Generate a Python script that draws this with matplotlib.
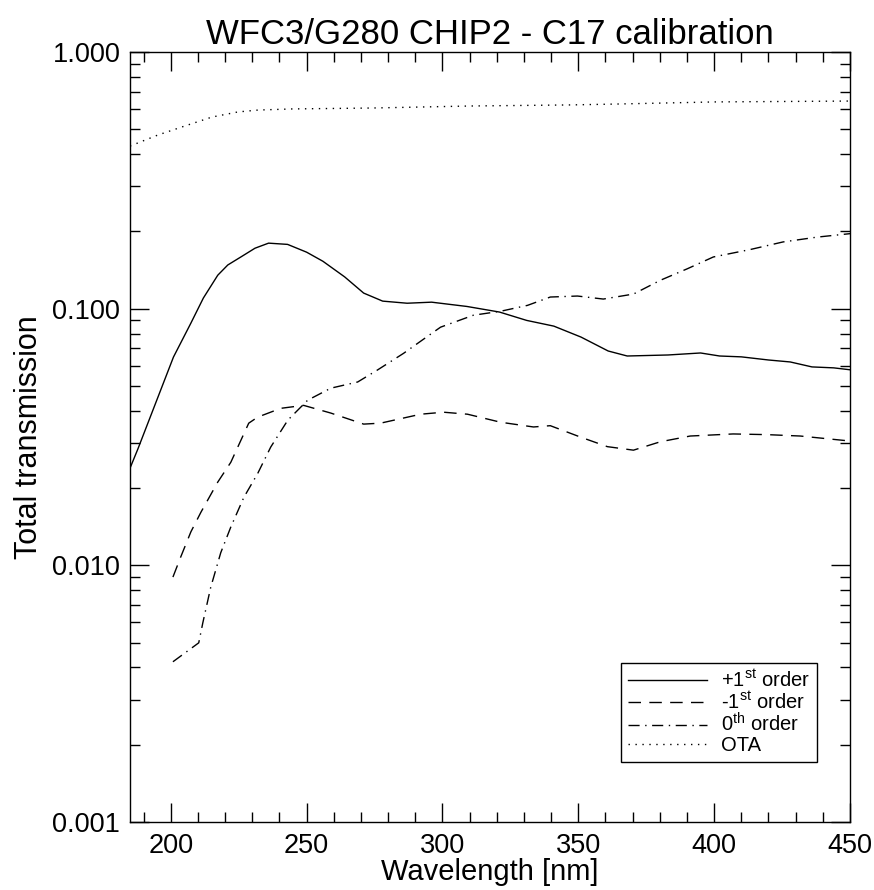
import numpy as np
import matplotlib
matplotlib.use("Agg")
import matplotlib.pyplot as plt
from matplotlib.ticker import MultipleLocator, LogLocator, FixedLocator, FormatStrFormatter

plt.rcParams['font.family'] = ['Liberation Sans', 'DejaVu Sans']
plt.rcParams['mathtext.fontset'] = 'custom'
plt.rcParams['mathtext.rm'] = 'Liberation Sans'
plt.rcParams['mathtext.it'] = 'Liberation Sans:italic'

# +1st order
wl_p1 = [185, 187.9, 201, 207.4, 212, 217.3, 221, 225.8, 231, 236, 243, 250, 256, 264,
         271, 278, 287, 296, 309, 321, 331, 341, 351, 361, 368, 383, 395, 402, 410,
         420, 428, 436, 444, 450]
tr_p1 = [0.0239, 0.0284, 0.0648, 0.0878, 0.110, 0.135, 0.148, 0.159, 0.172, 0.180,
         0.178, 0.166, 0.153, 0.133, 0.115, 0.107, 0.105, 0.106, 0.102, 0.097, 0.090,
         0.0855, 0.0775, 0.0684, 0.0654, 0.066, 0.0672, 0.0654, 0.0649, 0.0631,
         0.062, 0.0593, 0.0588, 0.0578]

# -1st order
wl_m1 = [200.8, 203.7, 207.4, 211.1, 217.3, 222.1, 228.7, 232, 240.5, 248.9, 258.9,
         271, 277.2, 292, 300.4, 309.2, 321.4, 333.5, 339.7, 350.8, 360.7, 370.3,
         380.2, 391.2, 407, 419.5, 431.7, 450]
tr_m1 = [0.0090, 0.0108, 0.0135, 0.0161, 0.0211, 0.0252, 0.0358, 0.0378, 0.0409,
         0.0420, 0.0392, 0.0355, 0.0358, 0.0388, 0.0395, 0.0388, 0.0361, 0.0346,
         0.0350, 0.0316, 0.0290, 0.0281, 0.0303, 0.0319, 0.0325, 0.0323, 0.0319, 0.0305]

# 0th order
wl_0 = [200.8, 210.3, 211.8, 214.7, 218.4, 222.1, 226.9, 232, 236.8, 243.1, 250.4,
        258.9, 268.8, 276.1, 285.7, 295.6, 299.3, 311.4, 321.4, 331.3, 339.7, 349.7,
        359.2, 370.3, 380.2, 390.1, 399.7, 413.3, 425.4, 437.9, 450]
tr_0 = [0.00421, 0.00499, 0.00597, 0.0082, 0.0112, 0.0141, 0.0184, 0.0228, 0.0289,
        0.0368, 0.0440, 0.0490, 0.0518, 0.0577, 0.067, 0.0795, 0.0847, 0.0943, 0.0977,
        0.103, 0.111, 0.112, 0.109, 0.114, 0.129, 0.143, 0.159, 0.170, 0.182, 0.190, 0.196]

# OTA
wl_ota = [185, 195.3, 205.2, 215.2, 224.7, 232.1, 244.6, 274.1, 310.1, 347, 364.2, 400.3, 450]
tr_ota = [0.430, 0.475, 0.515, 0.558, 0.584, 0.594, 0.600, 0.605, 0.616, 0.622, 0.627, 0.639, 0.644]

fig = plt.figure(figsize=(8.74, 8.90), dpi=100)
ax = fig.add_axes([130/874, 68/890, 720/874, 770/890])

lw = 1.0
ax.plot(wl_p1, tr_p1, color='black', lw=lw, ls='-', label=r'+1$^{\rm st}$ order')
ax.plot(wl_m1, tr_m1, color='black', lw=lw, ls=(0, (9, 6)), label=r'-1$^{\rm st}$ order')
ax.plot(wl_0, tr_0, color='black', lw=lw, ls=(0, (8, 4, 1, 4)), label=r'0$^{\rm th}$ order')
ax.plot(wl_ota, tr_ota, color='black', lw=lw, ls=(0, (1, 4)), label='OTA')

ax.set_yscale('log')
ax.set_xlim(185, 450)
ax.set_ylim(0.001, 1.0)

ax.xaxis.set_major_locator(MultipleLocator(50))
ax.xaxis.set_minor_locator(MultipleLocator(10))
ax.yaxis.set_major_locator(FixedLocator([0.001, 0.01, 0.1, 1.0]))
ax.yaxis.set_minor_locator(LogLocator(base=10, subs=np.arange(2, 10)))
ax.yaxis.set_major_formatter(FormatStrFormatter('%.3f'))
ax.yaxis.set_minor_formatter(plt.NullFormatter())

ax.tick_params(which='both', direction='in', top=True, right=True, width=1, labelsize=19.5)
ax.tick_params(which='major', length=14)
ax.tick_params(which='minor', length=7)
ax.tick_params(axis='x', which='major', pad=8)
ax.tick_params(axis='y', which='major', pad=7)
for s in ax.spines.values():
    s.set_linewidth(1)

ax.set_title('WFC3/G280 CHIP2 - C17 calibration', fontsize=25, pad=6)
ax.set_xlabel('Wavelength [nm]', fontsize=21)
ax.xaxis.set_label_coords(0.5, -0.047)
ax.set_ylabel('Total transmission', fontsize=22, labelpad=6)

leg = ax.legend(loc='lower right', bbox_to_anchor=(1 - 33/720, 60/770), borderaxespad=0,
                fontsize=14.5, frameon=True, fancybox=False, edgecolor='black',
                framealpha=1, handlelength=3.9, labelspacing=0.0, borderpad=0.35,
                handletextpad=0.7)
leg.get_frame().set_linewidth(1)

fig.savefig('out.png', dpi=100)
